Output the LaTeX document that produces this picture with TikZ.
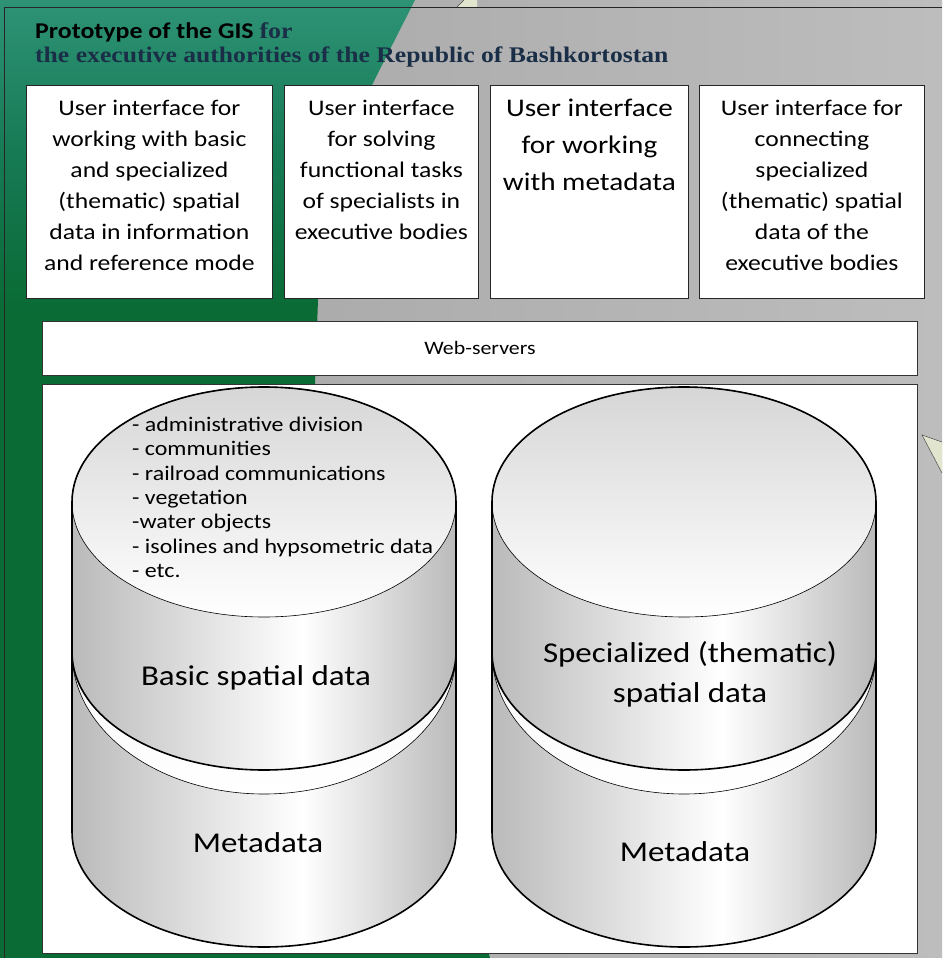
\documentclass[tikz,border=0pt]{standalone}
\usepackage{fontspec}
\setmainfont{Carlito}[FakeStretch=1.15]
\newfontfamily\ttlserif{Liberation Serif}[FakeStretch=1.15]
\usetikzlibrary{positioning}
\definecolor{titlenavy}{HTML}{1A2F47}
\definecolor{greytop}{HTML}{A3A3A3}
\definecolor{greyside}{HTML}{BDBDBD}
\definecolor{greenlight}{HTML}{2E9375}
\definecolor{greenmid}{HTML}{167A55}
\definecolor{greendark}{HTML}{0A6B35}
\definecolor{cylgrey}{HTML}{BABABA}
\definecolor{capgrey}{HTML}{D6D6D6}
\definecolor{callout}{HTML}{E2E5CE}
\pgfdeclarehorizontalshading{bgshade}{100bp}{color(0bp)=(greytop); color(25bp)=(greytop); color(75bp)=(greyside); color(100bp)=(greyside)}
\pgfdeclareverticalshading{greenshade}{100bp}{color(0bp)=(greendark); color(59bp)=(greendark); color(67bp)=(greenmid); color(75bp)=(greenlight); color(100bp)=(greenlight)}
\pgfdeclarehorizontalshading{cylside}{100bp}{color(0bp)=(cylgrey); color(25bp)=(cylgrey); color(55bp)=(white); color(75bp)=(cylgrey); color(100bp)=(cylgrey)}
\pgfdeclareverticalshading{cyltop}{100bp}{color(0bp)=(white); color(25bp)=(white); color(75bp)=(capgrey); color(100bp)=(capgrey)}
\pgfdeclareverticalshading{cylrim}{100bp}{color(0bp)=(white); color(25bp)=(white); color(75bp)=(black!6); color(100bp)=(black!6)}
\tikzstyle{uibox} = [draw=black!85, fill=white, line width=0.8pt, anchor=north west, inner sep=0pt]
\tikzstyle{uitext} = [align=center, inner sep=0pt, font=\fontsize{22.3}{31}\selectfont]
\tikzstyle{tierbox} = [draw=black!80, fill=white, line width=0.9pt, anchor=north west, inner sep=0pt]
\tikzstyle{outline} = [line width=1.6pt, line join=round]
\tikzstyle{rim} = [line width=0.6pt]
\tikzstyle{cyllabel} = [align=center, inner sep=0pt, font=\fontsize{28.7}{40}\selectfont]

\begin{document}
\begin{tikzpicture}[x=1pt, y=-1pt]
  \useasboundingbox (0,0) rectangle (942,958);
  % background
  \shade[shading=bgshade] (0,0) rectangle (942,958);
  \shade[shading=greenshade] (0,0) -- (415,0) -- (372,85) .. controls (340,190) .. (318,300) -- (315,384) -- (480,920) -- (490,958) -- (0,958) -- cycle;
  \draw[black!85, line width=0.8pt] (4,958) -- (4,7) -- (942,7);
  \fill[callout] (457,7) -- (464,0) -- (477,0) -- (477,7) -- cycle;
  \draw[black!70, line width=0.5pt] (457,7) -- (464,0);
  \filldraw[fill=callout, draw=black!70, line width=0.5pt] (942,442) -- (922,435) -- (942,473);

  % title
  \node[anchor=base west, inner sep=0pt, font=\fontsize{22.5}{25}\selectfont] (titletop) at (35,38) {\textbf{Prototype of the GIS} {\ttlserif\bfseries\color{titlenavy}for}};
  \node[anchor=base west, inner sep=0pt, font=\fontsize{22.3}{25}\ttlserif\bfseries, text=titlenavy] (titlebot) at (35,63) {the executive authorities of the Republic of Bashkortostan};

  % user interfaces
  \node[uibox, minimum width=246, minimum height=213] (uibasic) at (26,85) {};
  \node[uibox, minimum width=194, minimum height=213] (uitasks) at (284,85) {};
  \node[uibox, minimum width=198, minimum height=213] (uimeta) at (490,85) {};
  \node[uibox, minimum width=225, minimum height=213] (uiconn) at (699,85) {};
  \node[uitext, below=15pt of uibasic.north] (uibasictxt) {User interface for\\working with basic\\and specialized\\(thematic) spatial\\data in information\\and reference mode};
  \node[uitext, below=15pt of uitasks.north] (uitaskstxt) {User interface\\for solving\\functional tasks\\of specialists in\\executive bodies};
  \node[uitext, below=14pt of uimeta.north, font=\fontsize{25.4}{36.7}\selectfont] (uimetatxt) {User interface\\for working\\with metadata};
  \node[uitext, below=15pt of uiconn.north] (uiconntxt) {User interface for\\connecting\\specialized\\(thematic) spatial\\data of the\\executive bodies};

  % servers and storage
  \node[tierbox, minimum width=875, minimum height=54, font=\fontsize{19}{22}\selectfont] (websrv) at (42,321) {Web-servers};
  \node[tierbox, minimum width=875, minimum height=569] (storage) at (42,384) {};

  \foreach \cx in {264,684} {
    % metadata drum
    \shade[shading=cylside] (\cx-192,652) -- (\cx-192,832) arc[start angle=180, end angle=0, x radius=192, y radius=115] -- (\cx+192,652) -- cycle;
    \shade[shading=cylrim] (\cx,652) ellipse[x radius=192, y radius=142];
    \draw[rim] (\cx,652) ellipse[x radius=192, y radius=142];
    \draw[outline] (\cx-192,652) -- (\cx-192,832) arc[start angle=180, end angle=0, x radius=192, y radius=115] -- (\cx+192,652);
    % spatial data drum
    \shade[shading=cylside] (\cx-192,502) -- (\cx-192,652) arc[start angle=180, end angle=0, x radius=192, y radius=118] -- (\cx+192,502) -- cycle;
    \shade[shading=cyltop] (\cx,502) ellipse[x radius=192, y radius=115];
    \draw[rim] (\cx,502) ellipse[x radius=192, y radius=115];
    \draw[outline] (\cx-192,502) arc[start angle=180, end angle=360, x radius=192, y radius=115] -- (\cx+192,652) arc[start angle=0, end angle=180, x radius=192, y radius=118] -- cycle;
  }

  \node[anchor=north west, align=left, inner sep=0pt, font=\fontsize{20.8}{24.3}\selectfont] (basiclist) at (132,417) {- administrative division\\- communities\\- railroad communications\\- vegetation\\-water objects\\- isolines and hypsometric data\\- etc.};
  \node[cyllabel, anchor=base] (basiclbl) at (256,685) {Basic spatial data};
  \node[cyllabel, anchor=base] (basicmeta) at (258,852) {Metadata};
  \node[cyllabel, anchor=north] (speclbl) at (690,641) {Specialized (thematic)\\spatial data};
  \node[cyllabel, anchor=base] (specmeta) at (685,861) {Metadata};
\end{tikzpicture}
\end{document}
